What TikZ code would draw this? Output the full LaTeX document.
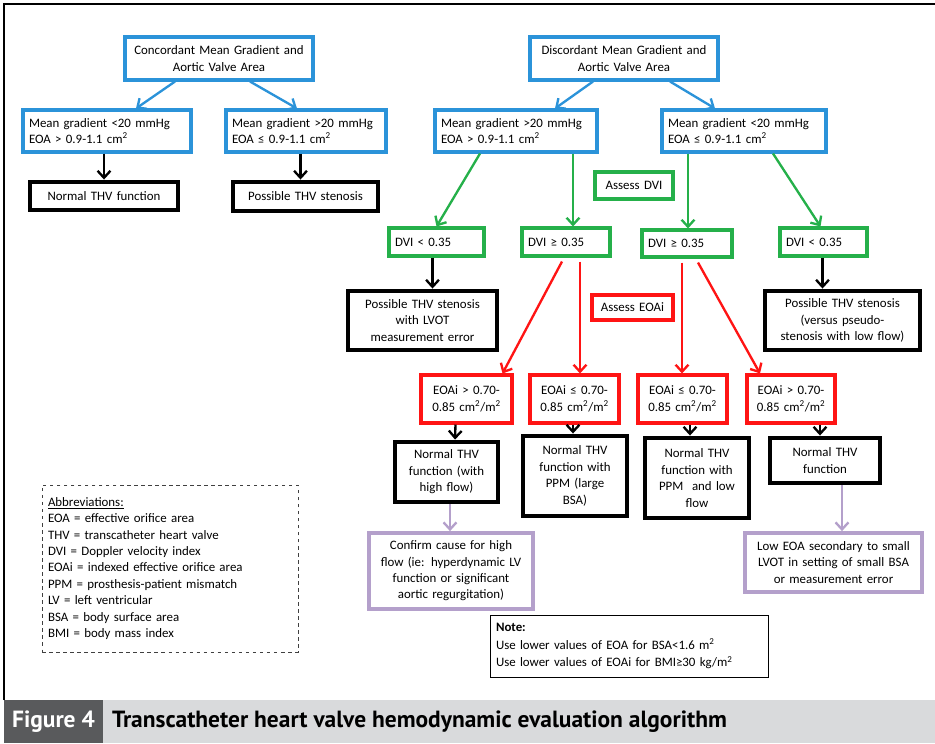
\documentclass[tikz,border=0pt]{standalone}
\usepackage{fontspec}
\setmainfont{Carlito}
\newfontfamily\capfont{PT Sans}
\usetikzlibrary{arrows.meta,positioning,calc}
\definecolor{azure}{HTML}{2B93D9}
\definecolor{leaf}{HTML}{25B04A}
\definecolor{scarlet}{HTML}{FF1414}
\definecolor{lilac}{HTML}{B4A0CB}
\definecolor{slate}{HTML}{595A5C}
\definecolor{mist}{HTML}{D9DADC}

\begin{document}
\begin{tikzpicture}[
  x=0.3mm, y=-0.3mm,
  font=\fontsize{11}{14}\selectfont,
  wh/.style 2 args={minimum width={#1*0.3mm},minimum height={#2*0.3mm},
                    text width={(#1-12)*0.3mm},inner xsep=0pt,inner ysep=0pt},
  box/.style={rectangle,fill=white,align=center},
  bluebox/.style={box,draw=azure,line width=2.6pt},
  greenbox/.style={box,draw=leaf,line width=2.6pt},
  redbox/.style={box,draw=scarlet,line width=2.6pt},
  blackbox/.style={box,draw=black,line width=4.2pt},
  lilacbox/.style={box,draw=lilac,line width=3.2pt},
  arr/.style={-{Straight Barb[length=6pt,width=11pt]},line width=2pt},
  capfnt/.style={font=\capfont\bfseries\fontsize{20}{24}\selectfont}
]
  \useasboundingbox (0,0) rectangle (935,743);
  \draw[line width=1.7pt] (4,700) -- (4,4) -- (935,4);

  \node[bluebox, wh={188}{43}] (conc) at (219,58.5) {Concordant Mean Gradient and\\ Aortic Valve Area};
  \node[bluebox, wh={168}{42}, align=left] (cLow) at (107,131) {Mean gradient <20 mmHg\\ EOA > 0.9-1.1 cm\textsuperscript{2}};
  \node[bluebox, wh={160}{42}, align=left] (cHigh) at (306,131) {Mean gradient >20 mmHg\\ EOA ≤ 0.9-1.1 cm\textsuperscript{2}};
  \node[blackbox, wh={148}{28}] (cNorm) at (104,196) {Normal THV function};
  \node[blackbox, wh={145}{29}] (cSten) at (305.5,196.5) {Possible THV stenosis};

  \node[bluebox, wh={188}{43}] (disc) at (624,58.5) {Discordant Mean Gradient and\\ Aortic Valve Area};
  \node[bluebox, wh={162}{42}, align=left] (dHigh) at (516,131) {Mean gradient >20 mmHg\\ EOA > 0.9-1.1 cm\textsuperscript{2}};
  \node[bluebox, wh={164}{42}, align=left] (dLow) at (744,131) {Mean gradient <20 mmHg\\ EOA ≤ 0.9-1.1 cm\textsuperscript{2}};
  \node[greenbox, wh={78}{27}] (assessDVI) at (634,185.5) {Assess DVI};
  \node[greenbox, wh={95}{28}, align=left] (dvi1) at (436.5,242) {DVI < 0.35};
  \node[greenbox, wh={88}{28}, align=left] (dvi2) at (566,242) {DVI ≥ 0.35};
  \node[greenbox, wh={90}{27}, align=left] (dvi3) at (687,243.5) {DVI ≥ 0.35};
  \node[greenbox, wh={87}{28}, align=left] (dvi4) at (823.5,242) {DVI < 0.35};
  \node[blackbox, wh={149}{59}] (sten1) at (422.5,320.5) {Possible THV stenosis\\ with LVOT\\ measurement error};
  \node[redbox, wh={81}{25}] (assessEOAi) at (632.5,307.5) {Assess EOAi};
  \node[blackbox, wh={155}{59}] (sten2) at (842.5,320.5) {Possible THV stenosis\\ (versus pseudo-\\ stenosis with low flow)};

  \node[redbox, wh={91}{48}] (eoa1) at (466.5,399) {EOAi > 0.70-\\ 0.85 cm\textsuperscript{2}/m\textsuperscript{2}};
  \node[redbox, wh={89}{48}] (eoa2) at (574.5,399) {EOAi ≤ 0.70-\\ 0.85 cm\textsuperscript{2}/m\textsuperscript{2}};
  \node[redbox, wh={89}{48}] (eoa3) at (682.5,399) {EOAi ≤ 0.70-\\ 0.85 cm\textsuperscript{2}/m\textsuperscript{2}};
  \node[redbox, wh={88}{48}] (eoa4) at (791,399) {EOAi > 0.70-\\ 0.85 cm\textsuperscript{2}/m\textsuperscript{2}};
  \node[blackbox, wh={103}{60}] (norm1) at (446.5,472) {Normal THV\\ function (with\\ high flow)};
  \node[blackbox, wh={104}{80}] (norm2) at (575,476) {Normal THV\\ function with\\ PPM (large\\ BSA)};
  \node[blackbox, wh={104}{80}] (norm3) at (697,478) {Normal THV\\ function with\\ PPM\ \ and low\\ flow};
  \node[blackbox, wh={110}{45}] (norm4) at (825,460.5) {Normal THV\\ function};
  \node[lilacbox, wh={164}{76}] (confirm) at (451,571) {Confirm cause for high\\ flow (ie: hyperdynamic LV\\ function or significant\\ aortic regurgitation)};
  \node[lilacbox, wh={177}{59}] (lowEOA) at (833.5,562.5) {Low EOA secondary to small\\ LVOT in setting of small BSA\\ or measurement error};

  \node[box, draw=black, line width=0.8pt, wh={278}{62}, align=left,
        font=\fontsize{11}{15}\selectfont] (note) at (629,646)
       {\textbf{Note:}\\ Use lower values of EOA for BSA<1.6 m\textsuperscript{2}\\ Use lower values of EOAi for BMI≥30 kg/m\textsuperscript{2}};
  \node[box, draw=black!75, dashed, line width=0.8pt, wh={256}{167}, align=left] (abbr) at (170,568.5)
       {\underline{Abbreviations:}\\ EOA = effective orifice area\\ THV = transcatheter heart valve\\
        DVI = Doppler velocity index\\ EOAi = indexed effective orifice area\\
        PPM = prosthesis-patient mismatch\\ LV = left ventricular\\ BSA = body surface area\\
        BMI = body mass index};

  \draw[arr, azure] ($(conc.south)+(-44,0)$) -- ($(cLow.north)+(29,0)$);
  \draw[arr, azure] ($(conc.south)+(31,0)$) -- ($(cHigh.north)+(-9,0)$);
  \draw[arr, azure] ($(disc.south)+(-31,0)$) -- ($(dHigh.north)+(39,0)$);
  \draw[arr, azure] ($(disc.south)+(46,0)$) -- ($(dLow.north)+(-29,0)$);
  \draw[arr] (cNorm.north |- cLow.south) -- (cNorm.north);
  \draw[arr] ($(cSten.north |- cHigh.south)+(-5,0)$) -- ($(cSten.north)+(-5,0)$);

  \draw[arr, leaf] ($(dHigh.south)+(-36,0)$) -- (dvi1.north);
  \draw[arr, leaf] ($(dHigh.south)+(57,0)$) -- ($(dvi2.north)+(7,0)$);
  \draw[arr, leaf] ($(dLow.south)+(-56,0)$) -- ($(dvi3.north)+(1,0)$);
  \draw[arr, leaf] ($(dLow.south)+(29,0)$) -- ($(dvi4.north)+(-3,0)$);
  \draw[arr] ($(dvi1.south)+(-4,0)$) -- ($(sten1.north)+(10,0)$);
  \draw[arr] ($(dvi4.south)+(-1,0)$) -- ($(sten2.north)+(-20,0)$);

  \draw[arr, scarlet] ($(dvi2.south)+(-4,4)$) -- ($(eoa1.north)+(36,0)$);
  \draw[arr, scarlet] ($(dvi2.south)+(14,4)$) -- ($(eoa2.north)+(5.5,0)$);
  \draw[arr, scarlet] ($(dvi3.south)+(-5,4)$) -- ($(eoa3.north)+(-0.5,0)$);
  \draw[arr, scarlet] ($(dvi3.south)+(11,4)$) -- ($(eoa4.north)+(-31,0)$);
  \draw[arr] ($(eoa1.south)+(-11,0)$) -- ($(norm1.north)+(8.5,0)$);
  \draw[arr] ($(eoa2.south)+(-1.5,0)$) -- ($(norm2.north)+(-2,0)$);
  \draw[arr] ($(eoa3.south)+(7.5,0)$) -- ($(norm3.north)+(-7,0)$);
  \draw[arr] ($(eoa4.south)+(29,0)$) -- ($(norm4.north)+(-5,0)$);
  \draw[arr, lilac] ($(norm1.south)+(3.5,0)$) -- ($(confirm.north)+(-1,0)$);
  \draw[arr, lilac] ($(norm4.south)+(17,0)$) -- ($(lowEOA.north)+(8.5,0)$);

  \fill[slate] (4,700) rectangle (103,743);
  \fill[mist] (103,700) rectangle (935,743);
  \node[capfnt, text=white] (figNo) at (53.5,721.5) {Figure 4};
  \node[capfnt, anchor=west] (figTitle) at (108,721.5) {Transcatheter heart valve hemodynamic evaluation algorithm};
\end{tikzpicture}
\end{document}
